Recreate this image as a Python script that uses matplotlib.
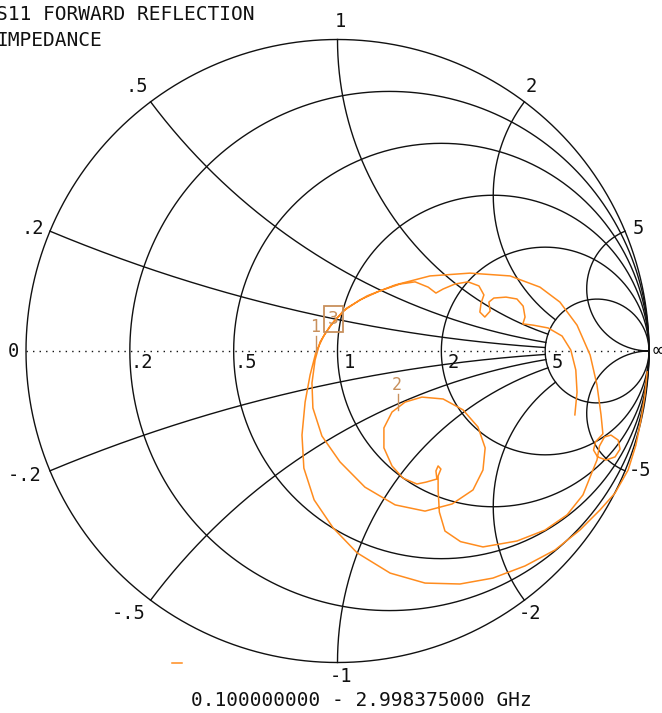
import numpy as np
import matplotlib
matplotlib.use("Agg")
import matplotlib.pyplot as plt

# Smith chart grid values
r_circles = [0.2, 0.5, 1.0, 2.0, 5.0]
x_arcs = [0.2, 0.5, 1.0, 2.0]      # truncated at the r=5 circle
x_full = [5.0]                      # drawn all the way to the open point

r_labels = [".2", ".5", "1", "2", "5"]
x_labels = {0.2: ".2", 0.5: ".5", 1.0: "1", 2.0: "2", 5.0: "5",
            -0.2: "-.2", -0.5: "-.5", -1.0: "-1", -2.0: "-2", -5.0: "-5"}

# S11 trace, reflection coefficient (real, imag), in sweep order
s11_re = [0.994, 0.987, 0.974, 0.958, 0.933, 0.891, 0.843, 0.778, 0.698, 0.602,
          0.499, 0.393, 0.281, 0.169, 0.063, -0.014, -0.075, -0.108, -0.114, -0.104,
          -0.088, -0.069, -0.043, -0.011, 0.030, 0.095, 0.185, 0.297, 0.425, 0.554,
          0.650, 0.714, 0.769, 0.811, 0.833, 0.846, 0.852,
          0.828, 0.822, 0.835, 0.862, 0.891, 0.907, 0.901, 0.878, 0.857, 0.841, 0.833,
          0.820, 0.788, 0.737, 0.666, 0.576, 0.467, 0.395, 0.345, 0.327, 0.323,
          0.323, 0.332, 0.323, 0.316, 0.319, 0.284,
          0.255, 0.210, 0.175, 0.149, 0.149, 0.175, 0.217, 0.271, 0.339, 0.403,
          0.451, 0.474, 0.467, 0.435, 0.368, 0.281, 0.185, 0.088, 0.008, -0.050,
          -0.079, -0.082, -0.072, -0.056, -0.024, 0.018, 0.072, 0.136, 0.201,
          0.249, 0.291, 0.316, 0.339, 0.377, 0.419, 0.454, 0.470,
          0.461, 0.457, 0.473, 0.490, 0.486, 0.502, 0.541, 0.576, 0.596, 0.602,
          0.595, 0.628, 0.676, 0.721, 0.749, 0.765, 0.769, 0.762]
s11_im = [-0.067, -0.141, -0.222, -0.302, -0.382, -0.456, -0.510, -0.575, -0.639, -0.690,
          -0.729, -0.748, -0.745, -0.713, -0.648, -0.568, -0.478, -0.376, -0.270, -0.164,
          -0.077, -0.003, 0.051, 0.096, 0.138, 0.177, 0.212, 0.241, 0.250, 0.241,
          0.205, 0.157, 0.083, -0.013, -0.109, -0.205, -0.266,
          -0.292, -0.318, -0.340, -0.350, -0.340, -0.315, -0.286, -0.270, -0.276, -0.305, -0.350,
          -0.382, -0.462, -0.526, -0.575, -0.610, -0.629, -0.612, -0.578, -0.517, -0.446,
          -0.401, -0.379, -0.369, -0.385, -0.411, -0.421,
          -0.427, -0.408, -0.369, -0.311, -0.247, -0.196, -0.164, -0.148, -0.154, -0.189,
          -0.244, -0.311, -0.382, -0.446, -0.491, -0.514, -0.494, -0.437, -0.356, -0.273,
          -0.183, -0.103, -0.029, 0.029, 0.080, 0.128, 0.164, 0.193, 0.215,
          0.222, 0.205, 0.186, 0.199, 0.215, 0.222, 0.209, 0.180,
          0.154, 0.125, 0.109, 0.128, 0.157, 0.170, 0.173, 0.167, 0.144, 0.109,
          0.087, 0.083, 0.074, 0.048, 0.003, -0.061, -0.132, -0.205]

# markers: name, gamma re, gamma im
markers = [("1", -0.069, -0.003), ("2", 0.194, -0.189), ("3", -0.014, 0.103)]

title_lines = ["S11 FORWARD REFLECTION", "IMPEDANCE"]
sweep_text = "0.100000000 - 2.998375000 GHz"

GRID = "#111111"
TRACE = "#ff8c1e"
MARK = "#c8905c"
MONO = "DejaVu Sans Mono"


def gamma(z):
    return (z - 1) / (z + 1)


W, H = 662, 713
cx, cy, R = 337.5, 351.0, 311.5

fig = plt.figure(figsize=(W / 100, H / 100), dpi=100)
ax = fig.add_axes([0, 0, 1, 1])
ax.set_xlim(-cx / R, (W - cx) / R)
ax.set_ylim(-(H - cy) / R, cy / R)
ax.axis("off")

t = np.linspace(0, 2 * np.pi, 721)
ax.plot(np.cos(t), np.sin(t), color=GRID, lw=1.0)
for r in r_circles:
    c, rad = r / (1 + r), 1 / (1 + r)
    ax.plot(c + rad * np.cos(t), rad * np.sin(t), color=GRID, lw=1.0)

for x in x_arcs:
    for s in (1, -1):
        rr = np.concatenate([np.linspace(0, 1, 300), np.linspace(1, 5, 300)])
        g = gamma(rr + 1j * s * x)
        ax.plot(g.real, g.imag, color=GRID, lw=1.0)
        rr = np.geomspace(60, 1e5, 200)
        g = gamma(rr + 1j * s * x)
        ax.plot(g.real, g.imag, color=GRID, lw=0.9)

for x in x_full:
    for s in (1, -1):
        rr = np.tan(np.linspace(0, np.pi / 2 - 1e-4, 600))
        g = gamma(rr + 1j * s * x)
        ax.plot(g.real, g.imag, color=GRID, lw=1.0)

# real axis, dotted
ax.plot([-1, 0.96], [0, 0], color=GRID, lw=1.0, ls=(0, (1, 3.7)))

lab = dict(fontfamily=MONO, fontsize=13.5, color=GRID, ha="center", va="center")
pt = 0.72
for r, s in zip(r_circles, r_labels):
    ax.annotate(s, (gamma(r), 0), xytext=(12 * pt, -11 * pt),
                textcoords="offset points", **lab)
ax.annotate("0", (-1, 0), xytext=(-13 * pt, 0), textcoords="offset points", **lab)
ax.annotate("\u221e", (1, 0), xytext=(9 * pt, 1 * pt), textcoords="offset points", **lab)

x_off = {0.2: (-17, 3), 0.5: (-14, 15), 1.0: (3, 18), 2.0: (7, 15), 5.0: (13, 3),
         -0.2: (-25, -5), -0.5: (-22, -13), -1.0: (3, -14), -2.0: (6, -13), -5.0: (15, 0)}
for x, s in x_labels.items():
    g = gamma(1j * x)
    dx, dy = x_off[x]
    ax.annotate(s, (g.real, g.imag), xytext=(dx * pt, dy * pt),
                textcoords="offset points", **lab)

# trace
ax.plot(s11_re, s11_im, color=TRACE, lw=1.1, solid_joinstyle="round")
ax.plot([-0.53, -0.50], [-1.003, -1.003], color=TRACE, lw=1.1)

# markers: "3" is the active one, boxed; the others get a label on a stem
for name, gr, gi in markers:
    if name == "3":
        ax.annotate(name, (gr, gi), xytext=(0, 0), textcoords="offset points",
                    fontfamily=MONO, fontsize=13, color=MARK, ha="center", va="center",
                    bbox=dict(boxstyle="square,pad=0.22", fc="none", ec=MARK, lw=1.3))
    else:
        stem = 16 / R
        ax.plot([gr, gr], [gi, gi + stem], color=MARK, lw=1.0)
        ax.annotate(name, (gr, gi + stem), xytext=(-1 * pt, 9 * pt),
                    textcoords="offset points", fontfamily=MONO, fontsize=12,
                    color=MARK, ha="center", va="center")

fig.text(-4 / W, 1 - 15 / H, title_lines[0], fontfamily=MONO, fontsize=14,
         color=GRID, ha="left", va="center")
fig.text(-4 / W, 1 - 40 / H, title_lines[1], fontfamily=MONO, fontsize=14,
         color=GRID, ha="left", va="center")
fig.text(361 / W, 1 - 700 / H, sweep_text, fontfamily=MONO, fontsize=14,
         color=GRID, ha="center", va="center")

fig.savefig("out.png", dpi=100)
